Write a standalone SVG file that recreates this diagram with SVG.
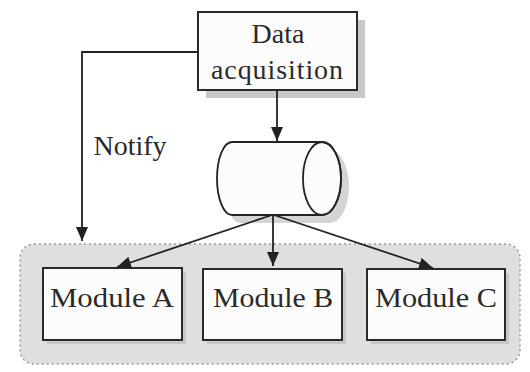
<svg xmlns="http://www.w3.org/2000/svg" width="530" height="372" viewBox="0 0 530 372">
<style>
.box{fill:#fcfcfc;stroke:#2a2a2a;stroke-width:2}
.shadow{fill:#c8c8c8}
.lbl{font-family:"Liberation Serif","Times New Roman",serif;font-size:28px;fill:#2a2a2a;text-anchor:middle}
.conn{fill:none;stroke:#222;stroke-width:1.8}
</style>
<defs>
<marker id="ah" viewBox="0 0 10 10" refX="10" refY="5" markerWidth="7" markerHeight="7" markerUnits="userSpaceOnUse" orient="auto" style="overflow:visible">
<path d="M0,0 L10,5 L0,10 z" fill="#222"/>
</marker>
<marker id="arr" viewBox="0 0 14 12" refX="14" refY="6" markerWidth="14" markerHeight="12" markerUnits="userSpaceOnUse" orient="auto">
<path d="M0,0 L14,6 L0,12 z" fill="#222"/>
</marker>
</defs>
<rect width="530" height="372" fill="#ffffff"/>
<g id="group-modules">
<rect x="20" y="244" width="500" height="120" rx="14" fill="#dfdfdf" stroke="#9a9a9a" stroke-width="1.5" stroke-dasharray="2 3"/>
</g>
<g id="data-acquisition">
<rect class="shadow" x="206" y="20" width="159" height="78"/>
<rect class="box" x="198" y="12" width="159" height="78"/>
<text class="lbl" x="278" y="43">Data</text>
<text class="lbl" x="277" y="79" textLength="132" lengthAdjust="spacing">acquisition</text>
</g>
<g id="storage">
<path d="M240 150 H330 A19 36.5 0 0 1 330 223 H240 A15 36.5 0 0 1 240 150 z" fill="#d4d4d4"/>
<path d="M232 142 H322 A19 36.5 0 0 1 322 215 H232 A15 36.5 0 0 1 232 142 z" fill="#fcfcfc" stroke="#222" stroke-width="1.8"/>
<ellipse cx="322" cy="178.5" rx="19" ry="36.5" fill="none" stroke="#222" stroke-width="1.8"/>
</g>
<g id="module-a">
<rect class="shadow" x="47" y="272" width="139" height="72"/>
<rect class="box" x="43" y="268" width="139" height="72"/>
<text class="lbl" x="112" y="307" textLength="124" lengthAdjust="spacingAndGlyphs">Module A</text>
</g>
<g id="module-b">
<rect class="shadow" x="207" y="273" width="139" height="71"/>
<rect class="box" x="203" y="269" width="139" height="71"/>
<text class="lbl" x="273" y="307" textLength="120" lengthAdjust="spacingAndGlyphs">Module B</text>
</g>
<g id="module-c">
<rect class="shadow" x="371" y="273" width="138" height="71"/>
<rect class="box" x="367" y="269" width="138" height="71"/>
<text class="lbl" x="436" y="307" textLength="122" lengthAdjust="spacingAndGlyphs">Module C</text>
</g>
<g id="connectors">
<path class="conn" d="M198 52 H82 V241" marker-end="url(#arr)"/>
<text class="lbl" x="130" y="155">Notify</text>
<path class="conn" d="M277 90 V141" marker-end="url(#arr)"/>
<path class="conn" d="M272 215 L117 267" marker-end="url(#arr)"/>
<path class="conn" d="M273 215 V266" marker-end="url(#arr)"/>
<path class="conn" d="M274 215 L433 268" marker-end="url(#arr)"/>
</g>
</svg>
